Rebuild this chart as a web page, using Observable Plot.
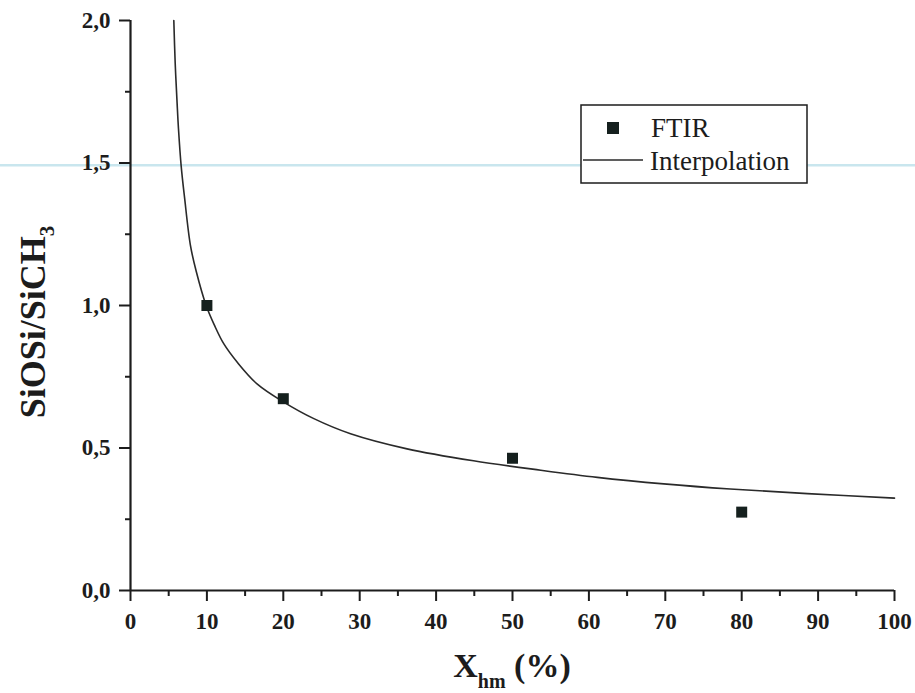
<!DOCTYPE html>
<html>
<head>
<meta charset="utf-8">
<script src="https://cdn.jsdelivr.net/npm/d3@7"></script>
<script src="https://cdn.jsdelivr.net/npm/@observablehq/plot@0.6"></script>
<style>
  html, body { margin: 0; padding: 0; background: #ffffff; }
  #chart { position: relative; width: 915px; height: 693px; }
  #chart svg text, #chart svg tspan { font-family: "Liberation Serif", "Times New Roman", serif; }
</style>
</head>
<body>
<div id="chart"></div>
<script>
// FTIR measurements
const ftirX = [10, 20, 50, 80];
const ftirY = [1.0, 0.673, 0.464, 0.275];

// Interpolation curve, points
const interpX = [5.67, 5.85, 6.1, 6.28, 6.63, 7.07, 7.85, 8.6, 9.9, 11, 12.2, 14, 16.6, 20, 24, 28.8, 36.2, 44.9, 53.7, 61.1, 69.8, 78.5, 88.6, 100];
const interpY = [2.0, 1.85, 1.71, 1.62, 1.49, 1.38, 1.21, 1.12, 1.0, 0.93, 0.866, 0.80, 0.724, 0.662, 0.603, 0.550, 0.497, 0.455, 0.422, 0.397, 0.374, 0.356, 0.340, 0.324];

// Ticks
const xMajor = [0, 10, 20, 30, 40, 50, 60, 70, 80, 90, 100];
const xMinor = [5, 15, 25, 35, 45, 55, 65, 75, 85, 95];
const yMajor = [0, 0.5, 1.0, 1.5, 2.0];
const yMinor = [0.25, 0.75, 1.25, 1.75];

const legendLabels = ["FTIR", "Interpolation"];

const ftir = ftirX.map((x, i) => ({x, y: ftirY[i]}));
const interp = interpX.map((x, i) => ({x, y: interpY[i]}));
const ink = "#1c1c1c";
const serif = "'Liberation Serif', 'Times New Roman', serif";
const fmt = d => d.toFixed(1).replace(".", ",");

const chart = Plot.plot({
  width: 915,
  height: 693,
  marginLeft: 130,
  marginRight: 21,
  marginTop: 20,
  marginBottom: 103,
  style: {fontFamily: serif, fontSize: "23px", fontWeight: "bold", color: ink, background: "transparent"},
  x: {domain: [0, 100]},
  y: {domain: [0, 2]},
  marks: [
    Plot.axisX(xMinor, {tickSize: 6, tickFormat: () => "", label: null, strokeWidth: 2}),
    Plot.axisX(xMajor, {tickSize: 11, tickPadding: 11, tickFormat: d => String(d), label: null, strokeWidth: 2}),
    Plot.axisY(yMinor, {tickSize: 5, tickFormat: () => "", label: null, strokeWidth: 2}),
    Plot.axisY(yMajor, {tickSize: 11, tickPadding: 9, tickFormat: fmt, label: null, strokeWidth: 2}),
    Plot.ruleY([0], {stroke: ink, strokeWidth: 2.2}),
    Plot.ruleX([0], {stroke: ink, strokeWidth: 2.2}),
    Plot.line(interp, {x: "x", y: "y", curve: "catmull-rom", stroke: "#2a2a2a", strokeWidth: 1.6}),
    Plot.dot(ftir, {x: "x", y: "y", symbol: "square", r: 6.2, fill: "#15201e", stroke: "none"})
  ]
});

document.getElementById("chart").appendChild(chart);

const svg = d3.select(chart);
const sx = chart.scale("x");
const sy = chart.scale("y");

// faint scan line
svg.insert("rect", ":first-child")
  .attr("x", 0).attr("y", 164).attr("width", 915).attr("height", 2.5)
  .attr("fill", "#c9e6ee");

// X axis title
const xt = svg.append("text")
  .attr("x", sx.apply(50)).attr("y", 677)
  .attr("text-anchor", "middle")
  .style("font-family", serif)
  .style("font-size", "34px").style("font-weight", "bold").attr("fill", ink);
xt.append("tspan").text("X");
xt.append("tspan").attr("dy", 11).style("font-size", "20px").text("hm");
xt.append("tspan").attr("dy", -11).text(" (%)");

// Y axis title
const yt = svg.append("text")
  .attr("transform", `translate(45, ${(sy.apply(0) + sy.apply(2)) / 2 + 17}) rotate(-90)`)
  .attr("text-anchor", "middle")
  .style("font-family", serif)
  .style("font-size", "36px").style("font-weight", "bold").attr("fill", ink);
yt.append("tspan").text("SiOSi/SiCH");
yt.append("tspan").attr("dy", 9).style("font-size", "21px").text("3");

// Legend
const lg = svg.append("g").attr("text-anchor", "start")
  .style("font-family", serif)
  .style("font-weight", "normal").style("font-size", "27px");
lg.append("rect").attr("x", 581).attr("y", 105).attr("width", 226).attr("height", 78)
  .attr("fill", "#ffffff").attr("stroke", ink).attr("stroke-width", 1.5);
lg.append("rect").attr("x", 607).attr("y", 122).attr("width", 12).attr("height", 12).attr("fill", "#15201e");
lg.append("line").attr("x1", 583).attr("x2", 643).attr("y1", 160).attr("y2", 160)
  .attr("stroke", "#2a2a2a").attr("stroke-width", 1.6);
lg.append("text").attr("x", 651).attr("y", 137).attr("fill", ink)
  .style("font-family", serif).style("font-weight", "normal").text(legendLabels[0]);
lg.append("text").attr("x", 650).attr("y", 170).attr("fill", ink)
  .style("font-family", serif).style("font-weight", "normal").text(legendLabels[1]);
</script>
</body>
</html>
